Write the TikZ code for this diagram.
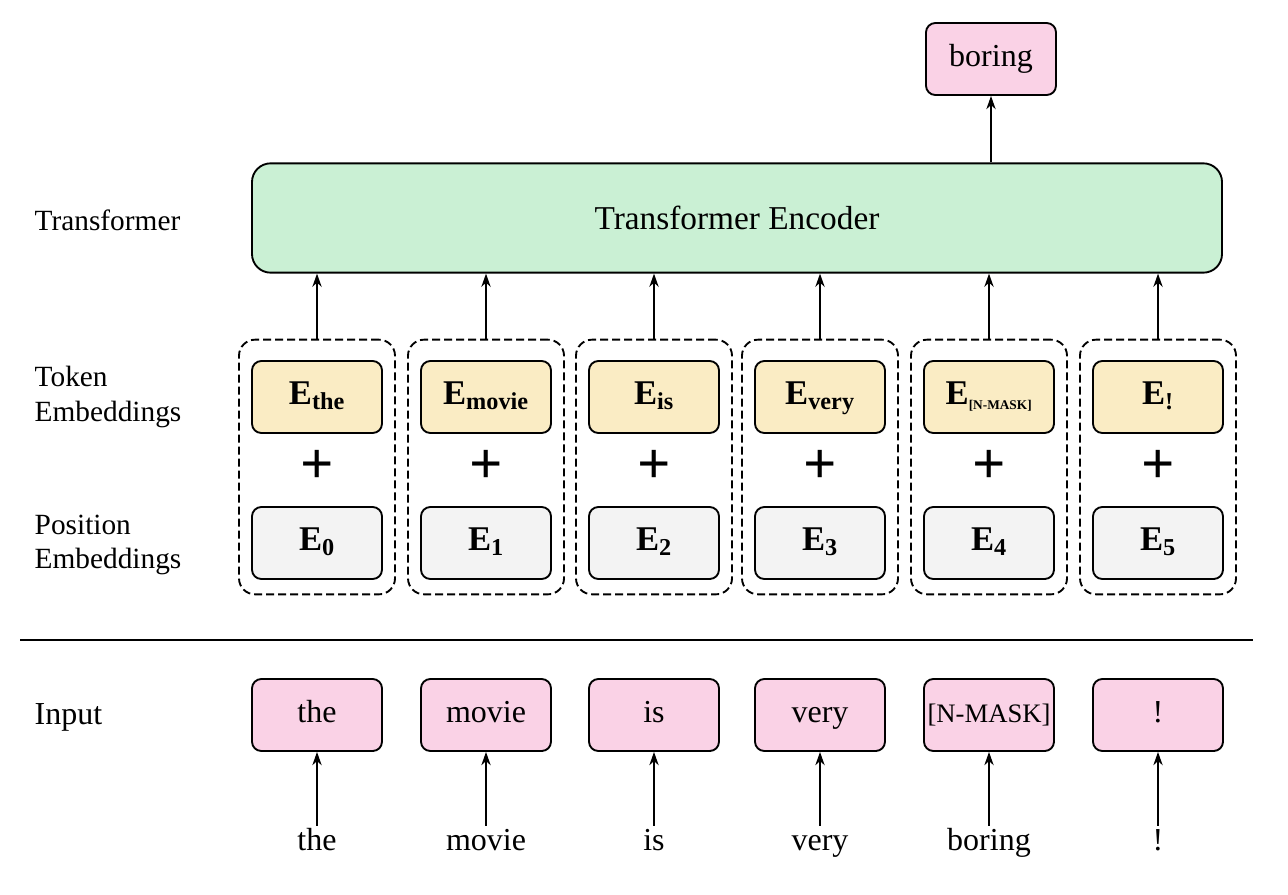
\documentclass[tikz,border=0pt]{standalone}
\usepackage{fontspec}
\setmainfont{Liberation Serif}
\usetikzlibrary{arrows.meta}
\definecolor{pinkb}{RGB}{250,210,230}
\definecolor{yelb}{RGB}{250,236,196}
\definecolor{grayb}{RGB}{243,243,243}
\definecolor{greenb}{RGB}{202,240,212}
\begin{document}
\begin{tikzpicture}[x=0.75pt,y=-0.75pt,
 box/.style={draw,line width=1.4pt,rounded corners=7pt,minimum width=97.5pt,minimum height=54pt,inner sep=0pt,text height=15pt,text depth=4pt},
 tok/.style={box,fill=yelb,font=\fontsize{26}{28}\selectfont\bfseries},
 posb/.style={box,fill=grayb,font=\fontsize{26}{28}\selectfont\bfseries},
 inp/.style={box,fill=pinkb,font=\fontsize{24}{26}\selectfont},
 grp/.style={draw,dash pattern=on 6pt off 3pt,line width=1.4pt,rounded corners=12pt,minimum width=117pt,minimum height=191pt},
 lab/.style={font=\fontsize{22}{26}\selectfont,align=left,anchor=west},
 word/.style={font=\fontsize{24}{26}\selectfont,text height=15pt,text depth=4pt},
 plus/.style={font=\fontsize{44}{44}\selectfont\bfseries},
 arr/.style={-{Stealth[length=10pt,width=7pt]},line width=1.2pt}]
\useasboundingbox (0,0) rectangle (1288,894);
\node[draw,line width=1.4pt,rounded corners=14pt,fill=greenb,minimum width=727.5pt,minimum height=82pt,font=\fontsize{25}{27}\selectfont] (enc) at (737,218) {Transformer Encoder};
\node[inp] (out) at (991,59) {boring};
\draw[arr] (enc.north -| out) -- (out);
\node[lab] (l1) at (30,220) {Transformer};
\node[lab] (l2) at (30,397) {Token\\Embeddings};
\node[lab] (l3) at (30,545) {Position\\Embeddings};
\node[lab,font=\fontsize{24}{26}\selectfont] (l4) at (30,717) {Input};
\draw[line width=2pt] (20,640) coordinate (s1) -- (1253,640) coordinate (s2);
\foreach \i/\x/\t/\w/\d in {0/317/the/the/the,1/486/movie/movie/movie,2/654/is/is/is,3/820/very/very/very,4/989/{\fontsize{10}{10}\selectfont[N-MASK]}/{\fontsize{20}{22}\selectfont[N-MASK]}/boring,5/1158/!/!/!}{
 \node[grp] (g\i) at (\x,467) {};
 \node[tok] (t\i) at (\x,397) {E\textsubscript{\t}};
 \node[plus] (p\i) at (\x,467) {+};
 \node[posb] (q\i) at (\x,543) {E\textsubscript{\i}};
 \node[inp] (in\i) at (\x,715) {\w};
 \node[word] (w\i) at (\x,843) {\d};
 \draw[arr] (g\i.north) -- (enc.south -| g\i);
 \draw[arr] (w\i.north) -- (in\i.south);
}
\end{tikzpicture}
\end{document}
